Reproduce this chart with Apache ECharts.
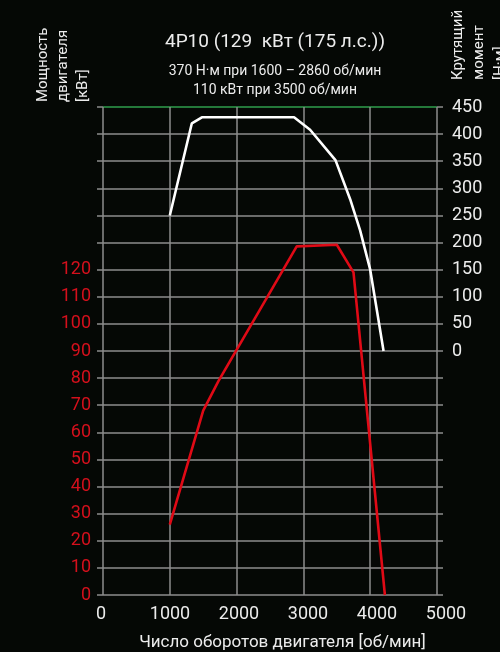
<!DOCTYPE html>
<html>
<head>
<meta charset="utf-8">
<script src="https://cdn.jsdelivr.net/npm/echarts@6/dist/echarts.min.js"></script>
<style>
html,body{margin:0;padding:0;background:#050805;}
#c{width:500px;height:652px;}
</style>
</head>
<body>
<div id="c"></div>
<script>
// ---- data ----
const titleText = '4P10 (129  кВт (175 л.с.))';
const subLine1 = '370 Н·м при 1600 – 2860 об/мин';
const subLine2 = '110 кВт при 3500 об/мин';
const xName = 'Число оборотов двигателя [об/мин]';
const leftName = 'Мощность\nдвигателя\n[кВт]';
const rightName = 'Крутящий\nмомент\n[Н·м]';

const rpmMin = 0, rpmMax = 5000, rpmStep = 1000;
const powerMin = 0, powerMax = 180, powerStep = 10, powerLabelMax = 120;
const torqueMin = -450, torqueMax = 450, torqueStep = 50, torqueLabelMin = 0;

const torqueRpm = [1000, 1330, 1480, 2860, 3100, 3480, 3700, 3850, 4000, 4100, 4200];
const torqueNm  = [250, 420, 431, 431, 408, 352, 280, 222, 150, 75, 0];
const powerRpm  = [1000, 1500, 1730, 2900, 3500, 3750, 4220];
const powerKw   = [26, 68, 79, 128.6, 129.2, 119, 0];

// ---- styles ----
const FONT = 'Roboto, "Liberation Sans", sans-serif';
const GRID = '#8c8c8c';
const RED = '#e00a16';
const nLines = (powerMax - powerMin) / powerStep + 1;
const splitColors = [];
for (let i = 0; i < nLines; i++) splitColors.push(i === nLines - 1 ? '#2f9e4c' : GRID);

const chart = echarts.init(document.getElementById('c'), null, {renderer: 'canvas'});
chart.setOption({
  backgroundColor: '#050805',
  animation: false,
  title: [
    {text: titleText, left: 270, top: 28, textAlign: 'center',
     textStyle: {color: '#ececec', fontFamily: FONT, fontSize: 19, fontWeight: 'normal'}},
    {text: subLine1, left: 270, top: 59, textAlign: 'center',
     textStyle: {color: '#ececec', fontFamily: FONT, fontSize: 14, fontWeight: 'normal'}},
    {text: subLine2, left: 270, top: 78, textAlign: 'center',
     textStyle: {color: '#ececec', fontFamily: FONT, fontSize: 14, fontWeight: 'normal'}}
  ],
  graphic: [
    {type: 'text', x: 33, y: 102, rotation: Math.PI / 2,
     style: {text: leftName, fill: '#ececec', font: '15px ' + FONT, lineHeight: 20,
             textAlign: 'left', textVerticalAlign: 'top'}},
    {type: 'text', x: 448, y: 80, rotation: Math.PI / 2,
     style: {text: rightName, fill: '#ececec', font: '15px ' + FONT, lineHeight: 21,
             textAlign: 'left', textVerticalAlign: 'top'}}
  ],
  grid: [
    {left: 103, right: 63, top: 107, bottom: 57, containLabel: false},
    {left: 101, right: 54, top: 595, height: 1, containLabel: false}
  ],
  xAxis: [
    {type: 'value', gridIndex: 0, min: rpmMin, max: rpmMax, interval: rpmStep,
     axisLine: {show: false}, axisTick: {show: false}, axisLabel: {show: false},
     splitLine: {show: true, lineStyle: {color: GRID, width: 1.5}}},
    {type: 'value', gridIndex: 1, min: rpmMin, max: rpmMax, interval: rpmStep,
     axisLine: {show: false}, axisTick: {show: false}, splitLine: {show: false},
     axisLabel: {show: true, color: '#ececec', fontFamily: FONT, fontSize: 18, margin: 9,
                 formatter: v => String(v)},
     name: xName, nameLocation: 'middle', nameGap: 38,
     nameTextStyle: {color: '#ececec', fontFamily: FONT, fontSize: 17, padding: [0, 0, 0, 18]}}
  ],
  yAxis: [
    {type: 'value', gridIndex: 0, position: 'left', min: powerMin, max: powerMax, interval: powerStep,
     axisLine: {show: false},
     axisTick: {show: true, length: 6, lineStyle: {color: GRID, width: 1.5}},
     axisLabel: {color: '#d4101c', fontFamily: FONT, fontSize: 18, margin: 12,
                 formatter: v => (v <= powerLabelMax ? String(v) : '')},
     splitLine: {show: true, lineStyle: {color: splitColors, width: 1.5}}},
    {type: 'value', gridIndex: 0, position: 'right', min: torqueMin, max: torqueMax, interval: torqueStep,
     axisLine: {show: false},
     axisTick: {show: true, length: 6, lineStyle: {color: GRID, width: 1.5}},
     axisLabel: {color: '#ececec', fontFamily: FONT, fontSize: 18, margin: 15,
                 formatter: v => (v >= torqueLabelMin ? String(v) : '')},
     splitLine: {show: false}},
    {type: 'value', gridIndex: 1, show: false}
  ],
  series: [
    {type: 'line', name: 'torque', xAxisIndex: 0, yAxisIndex: 1, symbol: 'none',
     lineStyle: {color: '#ffffff', width: 2.6},
     data: torqueRpm.map((r, i) => [r, torqueNm[i]])},
    {type: 'line', name: 'power', xAxisIndex: 0, yAxisIndex: 0, symbol: 'none',
     lineStyle: {color: RED, width: 2.6},
     data: powerRpm.map((r, i) => [r, powerKw[i]])}
  ]
});
</script>
</body>
</html>
